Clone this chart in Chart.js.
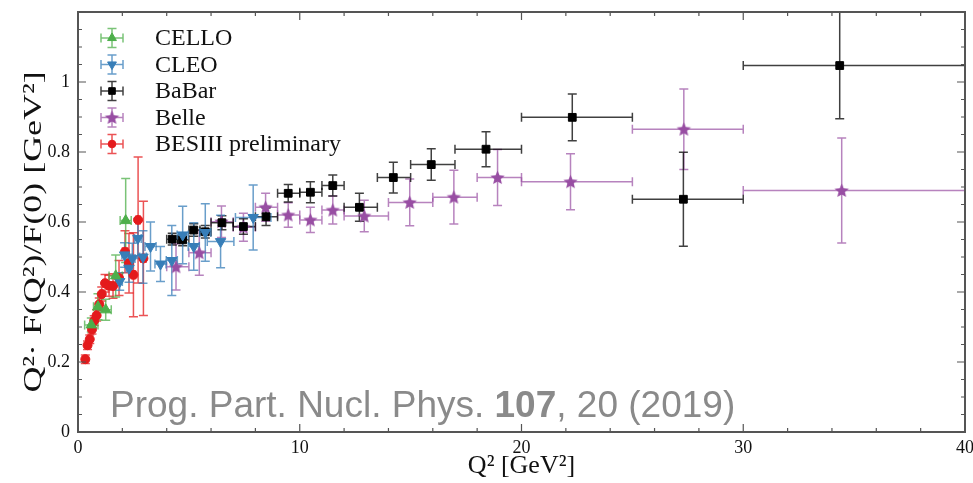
<!DOCTYPE html>
<html>
<head>
<meta charset="utf-8">
<script src="https://cdn.jsdelivr.net/npm/chart.js@4.4.0/dist/chart.umd.min.js"></script>
<style>
  html, body { margin: 0; padding: 0; background: #fff; }
</style>
</head>
<body>
<canvas id="myChart" width="973" height="483"></canvas>
<script>
// CELLO
const celloQ2 = [0.6, 0.9, 1.25, 1.7, 2.15];
const celloVal = [0.306, 0.358, 0.349, 0.446, 0.604];
const celloQ2Err = [0.3, 0.2, 0.25, 0.3, 0.25];
const celloValErr = [0.02, 0.037, 0.03, 0.06, 0.12];

// CLEO
const cleoQ2 = [1.88, 2.1, 2.3, 2.45, 2.7, 2.93, 3.27, 3.72, 4.23, 4.72, 5.22, 5.74, 6.43, 7.9];
const cleoVal = [0.43, 0.506, 0.468, 0.496, 0.553, 0.5, 0.53, 0.48, 0.49, 0.563, 0.53, 0.57, 0.544, 0.613];
const cleoQ2Err = [0.12, 0.12, 0.12, 0.12, 0.15, 0.15, 0.25, 0.25, 0.25, 0.25, 0.25, 0.25, 0.6, 0.8];
const cleoValErr = [0.025, 0.035, 0.04, 0.043, 0.057, 0.075, 0.07, 0.05, 0.1, 0.082, 0.068, 0.082, 0.075, 0.093];

// BaBar
const babarQ2 = [4.25, 4.72, 5.22, 5.74, 6.49, 7.46, 8.48, 9.48, 10.48, 11.49, 12.69, 14.22, 15.93, 18.4, 22.29, 27.3, 34.35];
const babarVal = [0.551, 0.549, 0.577, 0.572, 0.598, 0.587, 0.615, 0.682, 0.685, 0.704, 0.642, 0.727, 0.764, 0.808, 0.899, 0.665, 1.047];
const babarBinLo = [4, 4.5, 5, 5.5, 6, 7, 8, 9, 10, 11, 12, 13.5, 15, 17, 20, 25, 30];
const babarBinHi = [4.5, 5, 5.5, 6, 7, 8, 9, 10, 11, 12, 13.5, 15, 17, 20, 25, 30, 40];
const babarValErr = [0.017, 0.017, 0.018, 0.018, 0.02, 0.022, 0.025, 0.025, 0.03, 0.03, 0.04, 0.044, 0.045, 0.05, 0.067, 0.134, 0.152];

// Belle
const belleQ2 = [4.42, 5.47, 6.47, 7.46, 8.46, 9.48, 10.48, 11.49, 12.91, 14.96, 16.95, 18.92, 22.21, 27.32, 34.44];
const belleVal = [0.472, 0.512, 0.601, 0.585, 0.642, 0.62, 0.606, 0.634, 0.617, 0.656, 0.671, 0.727, 0.715, 0.865, 0.69];
const belleBinLo = [4, 5, 6, 7, 8, 9, 10, 11, 12, 14, 16, 18, 20, 25, 30];
const belleBinHi = [5, 6, 7, 8, 9, 10, 11, 12, 14, 16, 18, 20, 25, 30, 40];
const belleValErr = [0.066, 0.064, 0.045, 0.04, 0.04, 0.035, 0.036, 0.04, 0.045, 0.067, 0.077, 0.08, 0.08, 0.115, 0.15];

// BESIII preliminary
const besQ2 = [0.33, 0.43, 0.53, 0.63, 0.73, 0.84, 0.96, 1.07, 1.22, 1.4, 1.58, 1.85, 2.12, 2.3, 2.5, 2.71, 2.95];
const besVal = [0.208, 0.248, 0.265, 0.293, 0.318, 0.333, 0.365, 0.394, 0.425, 0.418, 0.417, 0.44, 0.515, 0.482, 0.449, 0.606, 0.496];
const besQ2Err = [0.05, 0.05, 0.05, 0.05, 0.05, 0.05, 0.06, 0.07, 0.08, 0.1, 0.1, 0.15, 0.12, 0.1, 0.1, 0.1, 0.12];
const besValErr = [0.012, 0.012, 0.012, 0.013, 0.014, 0.016, 0.018, 0.02, 0.025, 0.03, 0.035, 0.05, 0.06, 0.085, 0.12, 0.18, 0.163];

const xTicks = [0, 10, 20, 30, 40];
const yTicks = [0, 0.2, 0.4, 0.6, 0.8, 1];
const yTitle = 'Q²· F(Q²)/F(0) [GeV²]';

const SERIF = "'Liberation Serif', 'DejaVu Serif', serif";

function symPoints(q2, val, q2Err, valErr) {
  return q2.map((q, i) => ({
    x: q, y: val[i],
    xMin: q - q2Err[i], xMax: q + q2Err[i],
    yMin: val[i] - valErr[i], yMax: val[i] + valErr[i]
  }));
}
function binPoints(q2, val, lo, hi, valErr) {
  return q2.map((q, i) => ({
    x: q, y: val[i],
    xMin: lo[i], xMax: hi[i],
    yMin: val[i] - valErr[i], yMax: val[i] + valErr[i]
  }));
}

function starCanvas(color, r) {
  const c = document.createElement('canvas');
  const s = Math.ceil(r * 2) + 2;
  c.width = s; c.height = s;
  const g = c.getContext('2d');
  g.fillStyle = color;
  g.beginPath();
  for (let k = 0; k < 10; k++) {
    const rad = k % 2 ? r * 0.45 : r;
    const a = -Math.PI / 2 + k * Math.PI / 5;
    g.lineTo(s / 2 + rad * Math.cos(a), s / 2 + 0.5 + rad * Math.sin(a));
  }
  g.closePath();
  g.fill();
  return c;
}

const belleStar = starCanvas('#984ea3', 7.5);

const datasets = [
  {
    label: 'CELLO',
    data: symPoints(celloQ2, celloVal, celloQ2Err, celloValErr),
    backgroundColor: '#4daf4a', borderColor: '#4daf4a',
    errorColor: 'rgba(77,175,74,0.75)',
    pointStyle: 'triangle', pointRadius: 6, pointRotation: 0
  },
  {
    label: 'CLEO',
    data: symPoints(cleoQ2, cleoVal, cleoQ2Err, cleoValErr),
    backgroundColor: '#377eb8', borderColor: '#377eb8',
    errorColor: 'rgba(55,126,184,0.75)',
    pointStyle: 'triangle', pointRadius: 6, pointRotation: 180
  },
  {
    label: 'BaBar',
    data: binPoints(babarQ2, babarVal, babarBinLo, babarBinHi, babarValErr),
    backgroundColor: '#000', borderColor: '#000',
    errorColor: 'rgba(0,0,0,0.75)',
    pointStyle: 'rect', pointRadius: 5.5, pointRotation: 0
  },
  {
    label: 'Belle',
    data: binPoints(belleQ2, belleVal, belleBinLo, belleBinHi, belleValErr),
    backgroundColor: '#984ea3', borderColor: '#984ea3',
    errorColor: 'rgba(152,78,163,0.7)',
    pointStyle: belleStar, pointRadius: 7, pointRotation: 0
  },
  {
    label: 'BESIII preliminary',
    data: symPoints(besQ2, besVal, besQ2Err, besValErr),
    backgroundColor: '#e41a1c', borderColor: '#e41a1c',
    errorColor: 'rgba(228,26,28,0.75)',
    pointStyle: 'circle', pointRadius: 4.5, pointRotation: 0
  }
];

function drawCross(ctx, x0, x1, xc, y0, y1, yc, cap) {
  ctx.beginPath();
  ctx.moveTo(x0, yc); ctx.lineTo(x1, yc);
  ctx.moveTo(x0, yc - cap); ctx.lineTo(x0, yc + cap);
  ctx.moveTo(x1, yc - cap); ctx.lineTo(x1, yc + cap);
  ctx.moveTo(xc, y0); ctx.lineTo(xc, y1);
  ctx.moveTo(xc - cap, y0); ctx.lineTo(xc + cap, y0);
  ctx.moveTo(xc - cap, y1); ctx.lineTo(xc + cap, y1);
  ctx.stroke();
}

const errorBars = {
  id: 'errorBars',
  beforeDatasetsDraw(chart) {
    const {ctx, chartArea, scales: {x, y}} = chart;
    ctx.save();
    ctx.beginPath();
    ctx.rect(chartArea.left, chartArea.top, chartArea.right - chartArea.left, chartArea.bottom - chartArea.top);
    ctx.clip();
    ctx.lineWidth = 1.5;
    for (let i = chart.data.datasets.length - 1; i >= 0; i--) {
      const ds = chart.data.datasets[i];
      ctx.strokeStyle = ds.errorColor;
      ds.data.forEach(p => {
        drawCross(ctx,
          x.getPixelForValue(p.xMin), x.getPixelForValue(p.xMax), x.getPixelForValue(p.x),
          y.getPixelForValue(p.yMax), y.getPixelForValue(p.yMin), y.getPixelForValue(p.y), 4.5);
      });
    }
    ctx.restore();
  }
};

const frame = {
  id: 'frame',
  afterDraw(chart) {
    const {ctx, chartArea: a, scales: {x, y}} = chart;
    ctx.save();
    ctx.strokeStyle = '#555';
    ctx.lineWidth = 2;
    ctx.strokeRect(a.left, a.top, a.right - a.left, a.bottom - a.top);
    ctx.lineWidth = 1.2;
    ctx.beginPath();
    for (let v = 0; v <= 40; v += 2) {
      const px = x.getPixelForValue(v);
      const len = v % 10 === 0 ? 8 : 4;
      ctx.moveTo(px, a.bottom); ctx.lineTo(px, a.bottom - len);
      ctx.moveTo(px, a.top); ctx.lineTo(px, a.top + len);
    }
    for (let k = 0; k <= 24; k++) {
      const py = y.getPixelForValue(k * 0.05);
      const len = k % 4 === 0 ? 8 : 4;
      ctx.moveTo(a.left, py); ctx.lineTo(a.left + len, py);
      ctx.moveTo(a.right, py); ctx.lineTo(a.right - len, py);
    }
    ctx.stroke();

    // y axis title, stretched along its length like the reference
    ctx.save();
    ctx.translate(34, 232);
    ctx.rotate(-Math.PI / 2);
    ctx.scale(1.38, 1);
    ctx.font = '26px ' + SERIF;
    ctx.fillStyle = '#111';
    ctx.textAlign = 'center';
    ctx.textBaseline = 'middle';
    ctx.fillText(yTitle, 0, 0);
    ctx.restore();

    // legend
    const rows = [38, 64.5, 91, 117.5, 144];
    const mx = 112;
    ctx.font = '24px ' + SERIF;
    ctx.textBaseline = 'middle';
    ctx.textAlign = 'left';
    chart.data.datasets.forEach((ds, i) => {
      const yy = rows[i];
      ctx.strokeStyle = ds.errorColor;
      ctx.lineWidth = 1.5;
      drawCross(ctx, mx - 11, mx + 11, mx, yy - 9.5, yy + 9.5, yy, 4.5);
      ctx.fillStyle = ds.backgroundColor;
      ctx.strokeStyle = ds.borderColor;
      ctx.lineWidth = 1;
      Chart.helpers.drawPoint(ctx, {
        pointStyle: ds.pointStyle, radius: ds.pointRadius * 0.85,
        rotation: ds.pointRotation, borderWidth: 1
      }, mx, yy);
      ctx.fillStyle = '#111';
      ctx.fillText(ds.label, 155, yy + 1);
    });

    // citation
    ctx.fillStyle = '#8a8a8a';
    ctx.textBaseline = 'alphabetic';
    const base = 417;
    let tx = 110;
    const parts = [['Prog. Part. Nucl. Phys. ', ''], ['107', 'bold '], [', 20 (2019)', '']];
    parts.forEach(([t, w]) => {
      ctx.font = w + "37px 'Liberation Sans', Arial, sans-serif";
      ctx.fillText(t, tx, base);
      tx += ctx.measureText(t).width;
    });
    ctx.restore();
  }
};

const config = {
  type: 'scatter',
  data: { datasets: datasets },
  options: {
    responsive: false,
    animation: false,
    events: [],
    layout: { padding: { top: 12, right: 4, left: 0, bottom: 0 } },
    elements: { point: { borderWidth: 1 } },
    plugins: {
      legend: { display: false },
      tooltip: { enabled: false }
    },
    scales: {
      x: {
        type: 'linear',
        min: 0, max: 40,
        afterBuildTicks: s => { s.ticks = xTicks.map(v => ({ value: v })); },
        afterFit: s => { s.height = 51; s.paddingLeft = 0; s.paddingRight = 0; },
        grid: { display: false, drawTicks: false },
        border: { display: false },
        ticks: {
          padding: 5, color: '#111', maxRotation: 0, autoSkip: false,
          font: { family: SERIF, size: 18 }
        },
        title: {
          display: true, text: 'Q² [GeV²]', color: '#111',
          font: { family: SERIF, size: 26 }, padding: { top: 0, bottom: 1 }
        }
      },
      y: {
        type: 'linear',
        min: 0, max: 1.2,
        afterBuildTicks: s => { s.ticks = yTicks.map(v => ({ value: v })); },
        afterFit: s => { s.width = 78; s.paddingTop = 0; s.paddingBottom = 0; },
        grid: { display: false, drawTicks: false },
        border: { display: false },
        ticks: {
          padding: 8, color: '#111', autoSkip: false,
          font: { family: SERIF, size: 18 },
          callback: v => String(Number(v.toFixed(1)))
        },
        title: { display: false }
      }
    }
  },
  plugins: [errorBars, frame]
};

const myChart = new Chart(document.getElementById('myChart'), config);
</script>
</body>
</html>
